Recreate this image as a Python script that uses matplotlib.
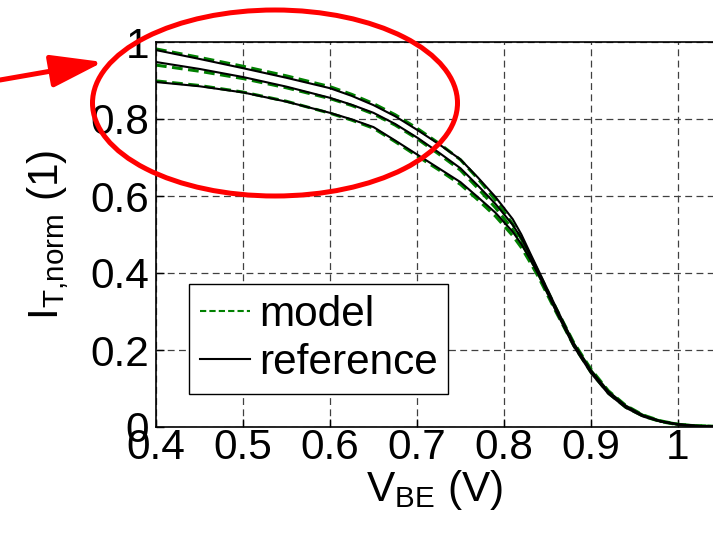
import matplotlib
matplotlib.use("Agg")
import matplotlib.pyplot as plt
from matplotlib.patches import Ellipse
from matplotlib.lines import Line2D

plt.rcParams['font.family'] = ['Liberation Sans', 'DejaVu Sans']
plt.rcParams['mathtext.fontset'] = 'custom'
plt.rcParams['mathtext.rm'] = 'Liberation Sans'

# V_BE sample points (V)
vbe = [0.40, 0.45, 0.50, 0.55, 0.60, 0.625, 0.65, 0.675, 0.70, 0.725, 0.75, 0.77,
       0.79, 0.81, 0.82, 0.83, 0.84, 0.86, 0.88, 0.90, 0.92, 0.94, 0.96, 0.98,
       1.00, 1.02, 1.05]

# reference curves (black)
ref_1 = [0.979, 0.956, 0.932, 0.907, 0.880, 0.860, 0.836, 0.807, 0.772, 0.735, 0.695, 0.648,
         0.598, 0.540, 0.500, 0.452, 0.405, 0.310, 0.218, 0.147, 0.092, 0.055, 0.030, 0.015,
         0.007, 0.003, 0.001]
ref_2 = [0.948, 0.930, 0.909, 0.884, 0.855, 0.837, 0.816, 0.787, 0.752, 0.713, 0.672, 0.627,
         0.580, 0.525, 0.490, 0.446, 0.400, 0.305, 0.214, 0.144, 0.090, 0.053, 0.029, 0.015,
         0.007, 0.003, 0.001]
ref_3 = [0.896, 0.885, 0.869, 0.845, 0.816, 0.799, 0.779, 0.744, 0.708, 0.672, 0.636, 0.597,
         0.557, 0.507, 0.475, 0.436, 0.394, 0.300, 0.210, 0.140, 0.086, 0.050, 0.027, 0.014,
         0.006, 0.003, 0.001]

# model curves (green dashed)
mod_1 = [0.982, 0.960, 0.937, 0.912, 0.884, 0.864, 0.840, 0.811, 0.776, 0.737, 0.694, 0.645,
         0.590, 0.527, 0.488, 0.445, 0.400, 0.308, 0.220, 0.150, 0.094, 0.056, 0.031, 0.016,
         0.007, 0.003, 0.001]
mod_2 = [0.940, 0.924, 0.905, 0.881, 0.853, 0.835, 0.813, 0.784, 0.749, 0.709, 0.667, 0.620,
         0.570, 0.513, 0.478, 0.438, 0.395, 0.304, 0.216, 0.146, 0.091, 0.054, 0.030, 0.015,
         0.007, 0.003, 0.001]
mod_3 = [0.899, 0.887, 0.870, 0.846, 0.815, 0.797, 0.776, 0.741, 0.704, 0.668, 0.630, 0.590,
         0.548, 0.497, 0.466, 0.428, 0.388, 0.298, 0.212, 0.142, 0.088, 0.051, 0.028, 0.014,
         0.006, 0.003, 0.001]

W, H = 713, 536
fs = 30.5
fig = plt.figure(figsize=(W / 100, H / 100), dpi=100)
ax = fig.add_axes([156 / W, (H - 427) / H, (W - 156) / W, (427 - 42) / H])

dash_m = (0, (3.5, 1.8))
for y in (mod_1, mod_2, mod_3):
    ax.plot(vbe, y, color='#008000', lw=2.2, linestyle=dash_m)
for y in (ref_1, ref_2, ref_3):
    ax.plot(vbe, y, color='black', lw=1.5)

ax.set_xlim(0.4, 0.4 + (W - 156) / 870)
ax.set_ylim(0, 1)
ax.set_xticks([0.4, 0.5, 0.6, 0.7, 0.8, 0.9, 1.0])
ax.set_xticklabels(['0.4', '0.5', '0.6', '0.7', '0.8', '0.9', '1'])
ax.set_yticks([0, 0.2, 0.4, 0.6, 0.8, 1.0])
ax.set_yticklabels(['0', '0.2', '0.4', '0.6', '0.8', '1'])
ax.tick_params(direction='in', length=6, width=1, labelsize=fs)
ax.tick_params(axis='x', pad=1)
ax.tick_params(axis='y', pad=5)
ax.grid(True, color='0.25', linestyle=(0, (5.5, 3.5)), lw=0.9)
ax.spines['right'].set_visible(False)
for s in ('left', 'bottom', 'top'):
    ax.spines[s].set_linewidth(1.2)

ax.set_xlabel(r'$\mathregular{V_{BE}}$ (V)', fontsize=fs, labelpad=0)
ax.set_ylabel(r'$\mathregular{I_{T{,}norm}}$ (1)', fontsize=fs, labelpad=14)

handles = [Line2D([], [], color='#008000', lw=1.5, linestyle=(0, (3, 1.5))),
           Line2D([], [], color='black', lw=1.5)]
leg = ax.legend(handles, ['model', 'reference'], loc='upper left',
                bbox_to_anchor=((189 - 156) / (W - 156), (427 - 284) / 385),
                borderaxespad=0, fontsize=fs, handlelength=1.2, handletextpad=0.2,
                labelspacing=0.2, borderpad=0.25, fancybox=False, framealpha=1)
leg.get_frame().set_edgecolor('black')
leg.get_frame().set_linewidth(1.0)

# red annotation: ellipse and arrow
ell = Ellipse((275 / W, 1 - 103 / H), 365 / W, 186 / H, transform=fig.transFigure,
              fill=False, edgecolor='red', lw=3.6, zorder=10)
fig.add_artist(ell)
ax.annotate('', xy=(103 / W, 1 - 62 / H), xycoords='figure fraction',
            xytext=(0, 1 - 80 / H), textcoords='figure fraction',
            arrowprops=dict(arrowstyle='-|>,head_length=0.8,head_width=0.25',
                            mutation_scale=40, color='red', lw=3.6, shrinkA=0, shrinkB=0),
            annotation_clip=False)

fig.savefig('out.png', dpi=100)
